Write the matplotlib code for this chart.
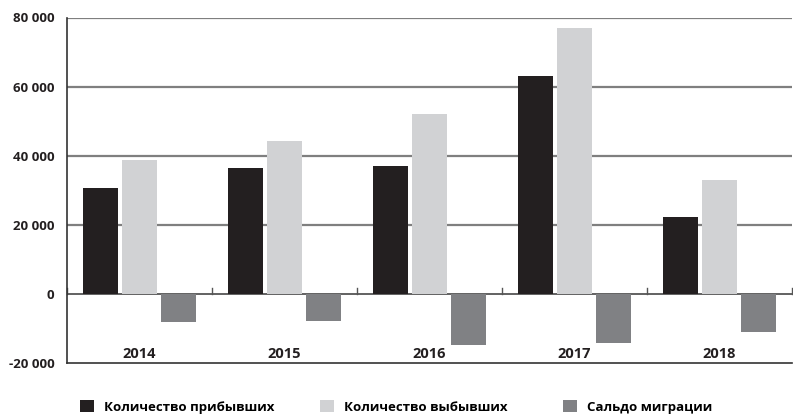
import matplotlib
matplotlib.use("Agg")
import matplotlib.pyplot as plt
import numpy as np
from matplotlib.patches import Patch

plt.rcParams['font.family'] = ['Open Sans', 'DejaVu Sans']

years = ['2014', '2015', '2016', '2017', '2018']
arrived = [30700, 36400, 37000, 63000, 22300]
departed = [38700, 44200, 52000, 76900, 33000]
balance = [-8100, -7700, -14900, -14100, -10900]
series_names = ['Количество прибывших', 'Количество выбывших', 'Сальдо миграции']
colors = ['#231f20', '#d1d2d4', '#808184']
yticks = [-20000, 0, 20000, 40000, 60000, 80000]
ytick_labels = ['-20 000', '0', '20 000', '40 000', '60 000', '80 000']

W, H = 793, 417
fig = plt.figure(figsize=(W / 100, H / 100), dpi=100)
ax = fig.add_axes([67 / W, (H - 363) / H, (792 - 67) / W, (363 - 17.5) / H])

x = np.arange(len(years)) + 0.5
off = 0.269
bw = 0.241
for i, (vals, c) in enumerate(zip([arrived, departed, balance], colors)):
    ax.bar(x + (i - 1) * off, vals, width=bw, color=c, zorder=3, linewidth=0)

ax.set_xlim(0, len(years))
ax.set_ylim(-20000, 80000)
ax.set_yticks(yticks)
ax.set_yticklabels(ytick_labels, fontsize=9.5, fontweight='bold', color='#231f20')
ax.tick_params(axis='y', length=0, pad=9)
for yv in [20000, 40000, 60000, 80000]:
    ax.axhline(yv, color='#7f7f7f', linewidth=1.6, zorder=1)
ax.axhline(0, color='#555555', linewidth=1.3, zorder=2)
# category boundary ticks on zero line
for b in range(0, len(years) + 1):
    ax.plot([b, b], [0, 1800], color='#555555', linewidth=1.0, zorder=2, clip_on=False)

ax.set_xticks([])
for xi, lab in zip(x, years):
    ax.text(xi, -17300, lab, ha='center', va='center', fontsize=10.5,
            fontweight='bold', color='#231f20')

for s in ['top', 'right']:
    ax.spines[s].set_visible(False)
for s in ['left', 'bottom']:
    ax.spines[s].set_color('#333333')
    ax.spines[s].set_linewidth(1.2)

legend_x = [80, 320, 563]
for name, c, lx in zip(series_names, colors, legend_x):
    fig.legend([Patch(facecolor=c, edgecolor='none')], [name], loc='center left',
               bbox_to_anchor=(lx / W, (H - 407) / H), frameon=False,
               prop={'size': 9.5, 'weight': 'bold'},
               handlelength=1.05, handleheight=1.05, handletextpad=0.8,
               borderaxespad=0, borderpad=0)

fig.savefig('out.png', dpi=100)
